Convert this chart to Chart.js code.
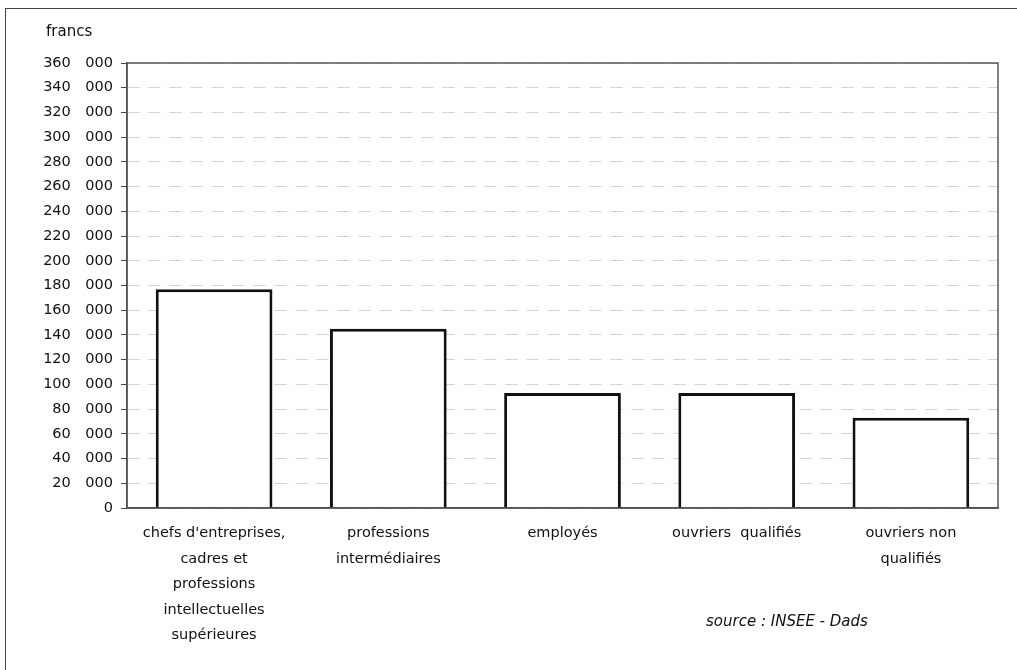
<!DOCTYPE html>
<html>
<head>
<meta charset="utf-8">
<script src="https://cdn.jsdelivr.net/npm/chart.js@4/dist/chart.umd.min.js"></script>
<style>
    html, body { margin: 0; padding: 0; background: #fff; }
    #wrap { position: relative; width: 1017px; height: 670px; overflow: hidden; }
    #frame { position: absolute; left: 5px; top: 8px; width: 1030px; height: 680px;
             border-left: 1.5px solid #444; border-top: 1.5px solid #444; }
    #chart { position: absolute; left: 0; top: 0; }
    .txt { position: absolute; font-family: "DejaVu Sans", sans-serif; font-size: 15px; color: #111; }
</style>
</head>
<body>
<div id="wrap">
    <div id="frame"></div>
    <canvas id="chart" width="1017" height="670"></canvas>
    <div class="txt" style="left:46px; top:22px;">francs</div>
    <div class="txt" style="left:706px; top:612px; font-style:italic;">source : INSEE - Dads</div>
</div>
<script>
// Categories (multi-line labels as in the original)
const categories = [
    ["chefs d'entreprises,", "cadres et", "professions", "intellectuelles", "supérieures"],
    ["professions", "intermédiaires"],
    ["employés"],
    ["ouvriers  qualifiés"],
    ["ouvriers non", "qualifiés"],
];

// Average annual wage, francs
const salaires = [177000, 145000, 93000, 93000, 73000];

const yMax = 360000;
const yStep = 20000;

// frame around the plot area
const plotBorder = {
    id: "plotBorder",
    afterDraw(chart) {
        const { ctx, chartArea: a } = chart;
        ctx.save();
        ctx.strokeStyle = "#555";
        ctx.lineWidth = 1.5;
        ctx.strokeRect(a.left, a.top, a.right - a.left, a.bottom - a.top);
        ctx.restore();
    },
};

document.addEventListener("DOMContentLoaded", () => {
    const el = document.getElementById("chart");

    new Chart(el, {
        type: "bar",
        data: {
            labels: categories,
            datasets: [
                {
                    data: salaires,
                    backgroundColor: "#fff",
                    borderColor: "#111",
                    borderWidth: 3,
                    borderSkipped: "bottom",
                    categoryPercentage: 0.67,
                    barPercentage: 1,
                },
            ],
        },
        options: {
            responsive: false,
            animation: false,
            layout: { padding: { left: 20, right: 19, top: 63, bottom: 0 } },
            plugins: {
                legend: { display: false },
                tooltip: { enabled: false },
            },
            scales: {
                x: {
                    grid: { display: false },
                    border: { color: "#333", width: 1.5 },
                    ticks: {
                        color: "#111",
                        font: { family: "DejaVu Sans", size: 14.5, lineHeight: 1.75 },
                        padding: 5,
                        maxRotation: 0,
                        autoSkip: false,
                    },
                    afterFit: (scale) => { scale.height = 162; },
                },
                y: {
                    min: 0,
                    max: yMax,
                    grid: {
                        color: "#d4d4d4",
                        lineWidth: 1,
                        tickColor: "#444",
                        tickLength: 6,
                    },
                    border: { color: "#444", width: 1.5, dash: [12, 9] },
                    ticks: {
                        stepSize: yStep,
                        color: "#111",
                        font: { family: "DejaVu Sans", size: 14.5 },
                        padding: 8,
                        callback: function (value) {
                            if (value === 0) return "0";
                            const k = Math.floor(value / 1000);
                            return k + "\u2003000";
                        },
                    },
                    afterFit: (scale) => { scale.width = 107; },
                },
            },
        },
        plugins: [plotBorder],
    });
});
</script>
</body>
</html>
